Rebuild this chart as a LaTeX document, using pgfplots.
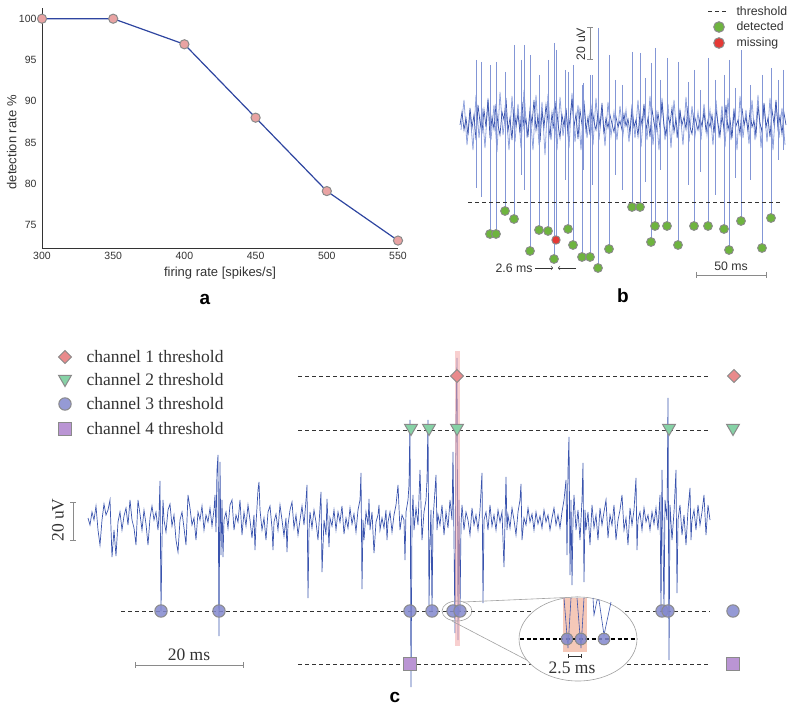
\documentclass[border=0pt]{standalone}
\usepackage{pgfplots}
\pgfplotsset{compat=1.18}
\usepackage{fontspec}
\setmainfont{Liberation Sans}
\newfontfamily\seriffont{Liberation Serif}
\definecolor{tr}{HTML}{3A54AE}
\definecolor{trl}{HTML}{8FA2DC}
\definecolor{spk}{HTML}{8396D6}
\definecolor{gr}{HTML}{8A8A8A}
\definecolor{axc}{HTML}{333333}
\definecolor{mka}{HTML}{E9A3A3}
\definecolor{lna}{HTML}{2E45A0}
\definecolor{dia}{HTML}{E98A8C}
\definecolor{tri}{HTML}{86D2A6}
\definecolor{cir}{HTML}{8388CE}
\definecolor{sq}{HTML}{BA95D4}
\definecolor{grn}{HTML}{6EB43F}
\definecolor{redm}{HTML}{E53935}
\definecolor{pinkb}{HTML}{F2A8A8}
\definecolor{peach}{HTML}{F5C8B8}
\pgfplotsset{
 dia/.style={only marks, mark=square*, mark size=4.6pt, mark options={rotate=45, fill=dia, draw=gr, line width=1pt}},
 tri/.style={only marks, mark=triangle*, mark size=7.5pt, mark options={rotate=180, fill=tri, draw=gr, line width=1pt}},
 cir/.style={only marks, mark=*, mark size=6.2pt, mark options={fill=cir, draw=gr, line width=1pt, fill opacity=0.85}},
 sqm/.style={only marks, mark=square*, mark size=6.2pt, mark options={fill=sq, draw=gr, line width=1pt}},
 thr/.style={dashed, dash pattern=on 4pt off 3pt, color=axc, line width=0.8pt},
}
\begin{document}
\begin{tikzpicture}
\useasboundingbox (0,0) rectangle (790pt,714pt);
% ---------------- panel a ----------------
\begin{axis}[at={(42pt,466pt)}, anchor=south west, scale only axis,
  width=356pt, height=240pt, xmin=300, xmax=550, ymin=72.2, ymax=101.3,
  axis lines=left, axis line style={-, axc, line width=0.8pt},
  xtick={300,350,...,550}, ytick={75,80,...,100}, major tick length=0pt,
  /pgf/number format/assume math mode=true,
  tick label style={font=\fontsize{10.5}{12}\selectfont, text=axc},
  xticklabel style={yshift=-1pt}, yticklabel style={xshift=-2pt},
  xlabel={firing rate [spikes/s]}, ylabel={detection rate \%},
  label style={font=\fontsize{13}{15}\selectfont, text=axc},
  xlabel style={at={(axis description cs:0.5,-0.104)}, anchor=center},
  ylabel style={at={(axis description cs:-0.085,0.44)}, anchor=center},
  clip=false]
\addplot[lna, line width=1.2pt, mark=*, mark size=4.6pt, mark options={fill=mka, draw=gr, line width=1pt}]
 coordinates {(300,100) (350,100) (400,96.9) (450,88) (500,79.1) (550,73.1)};
\end{axis}
% ---------------- background axis for b and c ----------------
\begin{axis}[at={(0pt,0pt)}, anchor=south west, scale only axis,
  width=790pt, height=714pt, xmin=0, xmax=790, ymin=0, ymax=714,
  y dir=reverse, hide axis, clip=false]
% ===== panel b =====
\addplot[trl, line width=0.8pt] coordinates {
(461,130) (464,100) (467,145) (470,112) (473,150) (476,95) (479,138) (482,108) (485,148) (488,98)
(491,140) (494,105) (497,152) (500,92) (503,135) (506,110) (509,150) (512,96) (515,142) (518,104)
(521,148) (524,90) (527,138) (530,112) (533,150) (536,95) (539,145) (542,102) (545,155) (548,94)
(551,140) (554,108) (557,150) (560,97) (563,136) (566,110) (569,148) (572,93) (575,142) (578,105)
(581,150) (584,100) (587,138) (590,112) (593,145) (596,98) (599,140) (602,108) (605,146) (608,102)
(611,136) (614,112) (617,140) (620,106) (623,135) (626,110) (629,142) (632,104) (635,138) (638,100)
(641,147) (644,108) (647,140) (650,96) (653,145) (656,110) (659,150) (662,98) (665,140) (668,104)
(671,148) (674,100) (677,138) (680,110) (683,145) (686,97) (689,142) (692,106) (695,136) (698,112)
(701,140) (704,104) (707,135) (710,110) (713,145) (716,100) (719,138) (722,106) (725,147) (728,98)
(731,140) (734,108) (737,150) (740,96) (743,138) (746,110) (749,144) (752,100) (755,140) (758,95)
(761,148) (764,104) (767,142) (770,98) (773,150) (776,102) (779,138) (782,108) (785,145)};
\addplot[tr, line width=0.7pt] coordinates {
(460,125) (462,112) (464,130) (466,118) (468,135) (470,108) (472,128) (474,115) (476,140) (478,105)
(480,122) (482,132) (484,110) (486,127) (488,100) (490,138) (492,117) (494,129) (496,104) (498,125)
(500,135) (502,112) (504,120) (506,98) (508,131) (510,118) (512,140) (514,107) (516,126) (518,114)
(520,133) (522,102) (524,128) (526,119) (528,137) (530,109) (532,124) (534,100) (536,130) (538,116)
(540,142) (542,111) (544,127) (546,105) (548,121) (550,136) (552,113) (554,129) (556,101) (558,124)
(560,138) (562,115) (564,126) (566,108) (568,133) (570,119) (572,99) (574,127) (576,114) (578,139)
(580,110) (582,125) (584,104) (586,131) (588,117) (590,135) (592,107) (594,122) (596,130) (598,112)
(600,126) (602,103) (604,134) (606,118) (608,128) (610,115) (612,124) (614,132) (616,117) (618,127)
(620,121) (622,130) (624,114) (626,126) (628,119) (630,133) (632,110) (634,127) (636,120) (638,136)
(640,112) (642,125) (644,104) (646,130) (648,118) (650,137) (652,109) (654,123) (656,131) (658,113)
(660,128) (662,102) (664,126) (666,135) (668,116) (670,124) (672,108) (674,132) (676,119) (678,138)
(680,111) (682,125) (684,117) (686,129) (688,106) (690,127) (692,134) (694,114) (696,122) (698,130)
(700,118) (702,126) (704,112) (706,131) (708,120) (710,127) (712,115) (714,133) (716,110) (718,124)
(720,136) (722,116) (724,128) (726,105) (728,130) (730,119) (732,138) (734,112) (736,126) (738,120)
(740,134) (742,108) (744,125) (746,117) (748,131) (750,111) (752,127) (754,121) (756,135) (758,106)
(760,123) (762,132) (764,103) (766,127) (768,118) (770,137) (772,110) (774,124) (776,100) (778,129)
(780,116) (782,134) (784,113) (786,125)};
% spikes (detected + small ones)
\addplot[spk, line width=0.5pt, unbounded coords=jump] coordinates {
(490,65) (490,234) (490,nan) (496,62) (496,234) (496,nan) (505,72) (505,211) (505,nan)
(514,45) (514,219) (514,nan) (530,55) (530,251) (530,nan) (539,75) (539,230) (539,nan)
(548,60) (548,231) (548,nan) (554,43) (554,259) (554,nan) (556,50) (556,240) (556,nan)
(568,72) (568,229) (568,nan) (573,65) (573,245) (573,nan) (582,85) (582,257) (582,nan)
(590,75) (590,257) (590,nan) (598,28) (598,268) (598,nan) (609,55) (609,249) (609,nan)
(632,52) (632,207) (632,nan) (640,53) (640,207) (640,nan) (651,63) (651,242) (651,nan)
(655,48) (655,226) (655,nan) (667,58) (667,226) (667,nan) (678,62) (678,245) (678,nan)
(694,70) (694,226) (694,nan) (708,58) (708,226) (708,nan) (724,75) (724,229) (724,nan)
(729,60) (729,250) (729,nan) (741,50) (741,221) (741,nan) (762,75) (762,248) (762,nan)
(771,68) (771,218) (771,nan)
(476,60) (476,188) (476,nan) (481,62) (481,197) (481,nan) (521,60) (521,175) (521,nan)
(524,45) (524,190) (524,nan) (565,70) (565,180) (565,nan) (583,83) (583,170) (583,nan)
(592,75) (592,185) (592,nan) (615,80) (615,175) (615,nan) (622,85) (622,190) (622,nan)
(645,78) (645,182) (645,nan) (660,80) (660,170) (660,nan) (688,82) (688,185) (688,nan)
(700,90) (700,172) (700,nan) (715,80) (715,195) (715,nan) (735,88) (735,178) (735,nan)
(750,85) (750,180) (750,nan) (778,80) (778,160) (778,nan) (783,70) (783,150)};
\addplot[thr] coordinates {(468,202) (780,202)};
\addplot[only marks, mark=*, mark size=4.4pt, mark options={fill=grn, draw=gr, line width=0.9pt}] coordinates {
(490,234) (496,234) (505,211) (514,219) (530,251) (539,230) (548,231) (554,259)
(568,229) (573,245) (582,257) (590,257) (598,268) (609,249) (632,207) (640,207)
(651,242) (655,226) (667,226) (678,245) (694,226) (708,226) (724,229) (729,250)
(741,221) (762,248) (771,218)};
\addplot[only marks, mark=*, mark size=4.2pt, mark options={fill=redm, draw=gr, line width=0.9pt}] coordinates {(556,240)};
% legend b
\addplot[thr, line width=0.7pt] coordinates {(708,11) (727,11)};
\addplot[only marks, mark=*, mark size=5.3pt, mark options={fill=grn, draw=gr, line width=1pt}] coordinates {(719,27)};
\addplot[only marks, mark=*, mark size=5.3pt, mark options={fill=redm, draw=gr, line width=1pt}] coordinates {(719,43)};
\begin{scope}[font=\fontsize{12.3}{14}\selectfont, text=axc]
\node[anchor=west] at (axis cs:733,11) {threshold};
\node[anchor=west] at (axis cs:733,26) {detected};
\node[anchor=west] at (axis cs:733,43) {missing};
\node[rotate=90] at (axis cs:581,44) {20 uV};
\node[anchor=west] at (axis cs:492,268) {2.6 ms};
\node[anchor=base] at (axis cs:731,271) {50 ms};
\end{scope}
\draw[gr, line width=1pt] (axis cs:590,28) -- (axis cs:590,60);
\draw[gr, line width=1pt] (axis cs:587,28) -- (axis cs:593,28);
\draw[gr, line width=1pt] (axis cs:587,60) -- (axis cs:593,60);
\draw[axc, line width=0.6pt, ->] (axis cs:535,268) -- (axis cs:553,268);
\draw[axc, line width=0.6pt, ->] (axis cs:576,268) -- (axis cs:558,268);
\draw[gr, line width=1pt] (axis cs:696,275) -- (axis cs:766,275);
\draw[gr, line width=1pt] (axis cs:696,272) -- (axis cs:696,278);
\draw[gr, line width=1pt] (axis cs:766,272) -- (axis cs:766,278);
% panel letters
\node[font=\fontsize{19}{22}\selectfont\bfseries] at (axis cs:205,299) {a};
\node[font=\fontsize{19}{22}\selectfont\bfseries] at (axis cs:623,296) {b};
\node[font=\fontsize{19}{22}\selectfont\bfseries] at (axis cs:395,697) {c};
% ===== panel c =====
\addplot[tr, line width=0.7pt] coordinates {
(88,518) (90,525) (92,512) (94,520) (96,506) (98,530) (100,545) (102,520) (104,504) (106,515)
(108,510) (110,500) (112,557) (114,530) (116,556) (118,522) (120,512) (122,530) (124,516) (126,508)
(128,525) (130,500) (132,520) (134,528) (136,545) (138,500) (140,514) (142,530) (144,510) (146,524)
(148,545) (150,518) (152,506) (154,520) (156,512) (158,530) (159,515) (160,481) (161,611) (162,540)
(163,500) (164,520) (166,532) (168,510) (170,504) (172,526) (174,515) (176,540) (178,552) (180,520)
(182,512) (184,528) (186,545) (188,495) (190,508) (192,525) (194,518) (196,540) (198,512) (200,520)
(202,506) (204,530) (206,515) (208,522) (210,508) (212,526) (214,510) (215,495) (216,532) (217,470)
(218,455) (219,636) (220,462) (221,555) (222,500) (223,557) (224,520) (226,512) (228,528) (230,505)
(232,500) (234,530) (236,515) (238,522) (240,500) (242,535) (244,512) (246,526) (248,505) (250,520)
(252,538) (254,515) (255,550) (256,524) (258,490) (259,482) (260,510) (262,530) (264,518) (266,540)
(268,512) (270,506) (272,528) (273,550) (274,522) (276,514) (278,530) (280,505) (282,520) (284,536)
(286,518) (287,552) (288,525) (290,510) (292,502) (294,528) (296,515) (298,535) (300,520) (302,506)
(304,525) (306,500) (307,485) (308,598) (309,530) (310,512) (312,528) (314,510) (316,522) (318,540)
(320,508) (321,492) (322,572) (324,520) (326,535) (327,499) (329,547) (330,518) (332,526) (334,510)
(336,530) (338,512) (340,522) (342,506) (344,534) (346,518) (348,528) (350,508) (352,524) (354,514)
(356,532) (358,510) (360,500) (361,473) (362,589) (363,520) (364,540) (366,512) (368,525) (369,499)
(370,530) (372,512) (374,553) (376,522) (378,515) (379,505) (380,530) (382,518) (384,528) (386,510)
(387,540) (388,522) (390,512) (392,532) (394,515) (396,505) (398,485) (400,530) (402,515) (404,520)
(405,560) (406,512) (408,500) (409,485) (410,420) (411,687) (412,520) (413,495) (414,530) (416,508)
(418,525) (420,470) (422,540) (424,512) (426,500) (427,480) (428,420) (429,605) (430,540) (431,510)
(432,611) (433,520) (434,505) (436,475) (437,530) (438,515) (440,525) (442,505) (444,535) (446,512)
(448,528) (450,500) (452,520) (453,452) (454,540) (455,633) (456,420) (457,358) (458,640) (459,500)
(460,611) (461,525) (462,505) (464,530) (466,512) (468,520) (470,535) (472,508) (474,525) (476,515)
(478,530) (480,510) (482,473) (483,603) (484,520) (486,512) (488,530) (490,505) (492,526) (494,515)
(496,530) (498,510) (500,522) (502,512) (504,567) (506,477) (507,530) (508,515) (510,528) (512,508)
(514,520) (516,535) (518,512) (520,500) (521,484) (522,540) (524,518) (526,525) (528,508) (530,522)
(532,514) (534,530) (536,512) (538,524) (540,516) (542,528) (544,510) (546,522) (548,515) (550,530)
(552,518) (554,508) (556,525) (558,515) (560,528) (562,512) (564,500) (566,480) (567,555) (568,470)
(569,437) (570,575) (571,500) (572,585) (573,520) (574,495) (576,530) (578,510) (580,540) (582,500)
(583,463) (584,582) (585,510) (586,530) (588,512) (590,545) (592,505) (594,528) (596,515) (598,540)
(600,508) (602,525) (604,512) (606,500) (608,538) (610,515) (612,525) (614,505) (616,540) (618,520)
(620,510) (622,495) (624,530) (626,518) (628,545) (630,508) (632,525) (634,510) (636,478) (637,550)
(638,520) (640,512) (642,530) (644,508) (646,522) (648,515) (650,530) (652,512) (654,524) (656,508)
(658,530) (660,495) (661,611) (662,470) (663,540) (664,610) (665,500) (667,520) (668,398) (669,660)
(670,505) (672,540) (674,512) (676,470) (677,593) (678,520) (680,505) (682,535) (684,515) (686,545)
(688,510) (690,488) (691,540) (692,520) (694,510) (696,530) (698,505) (700,525) (702,512) (704,495)
(706,535) (708,505) (710,520)};
% pink band
\fill[pinkb, opacity=0.55] (axis cs:454.5,351) rectangle (axis cs:459.5,646);
% thresholds
\addplot[thr] coordinates {(298,376) (710,376)};
\addplot[thr] coordinates {(298,430) (710,430)};
\addplot[thr] coordinates {(121,611) (710,611)};
\addplot[thr] coordinates {(298,664) (710,664)};
% small ellipse and connectors
\draw[gr!80, line width=0.6pt] (axis cs:457,611) ellipse [x radius=15pt, y radius=10pt];
\draw[gr!80, line width=0.6pt] (axis cs:463,602) -- (axis cs:578,597);
\draw[gr!80, line width=0.6pt] (axis cs:452,621) -- (axis cs:542,668);
% markers
\addplot[dia] coordinates {(457,376) (734,376)};
\addplot[tri] coordinates {(411,428) (429,428) (457,428) (669,428) (733,428)};
\addplot[cir] coordinates {(161,611) (219,611) (410,611) (432,611) (453,611) (460,611) (662,611) (668,611) (733,611)};
\addplot[sqm] coordinates {(410,664) (733,664)};
% big zoom ellipse
\filldraw[fill=white, draw=gr!80, line width=0.6pt] (axis cs:578,639) ellipse [x radius=59pt, y radius=42pt];
\fill[peach] (axis cs:563,598) rectangle (axis cs:587,652);
\addplot[black, dashed, dash pattern=on 4pt off 2.5pt, line width=1.3pt] coordinates {(520,639) (637,639)};
\addplot[tr, line width=0.6pt, unbounded coords=jump] coordinates {
(564,598) (568,648) (571,598) (571,nan) (577,598) (581,648) (584,598) (584,nan)
(593,598) (594,615) (597,600) (599,600) (604,635) (611,602)};
\addplot[cir, mark size=5.8pt] coordinates {(567,639) (581,639) (604,639)};
\draw[axc, line width=0.6pt] (axis cs:568,656) -- (axis cs:581,656);
\draw[axc, line width=0.6pt] (axis cs:568,654) -- (axis cs:568,658);
\draw[axc, line width=0.6pt] (axis cs:581,654) -- (axis cs:581,658);
% legend c
\addplot[dia] coordinates {(65,357)};
\addplot[tri] coordinates {(65,379)};
\addplot[cir] coordinates {(65,404)};
\addplot[sqm] coordinates {(65,429)};
\begin{scope}[font=\seriffont\fontsize{17.5}{20}\selectfont, text=axc]
\node[anchor=west] at (axis cs:83,357) {channel 1 threshold};
\node[anchor=west] at (axis cs:83,380) {channel 2 threshold};
\node[anchor=west] at (axis cs:83,404) {channel 3 threshold};
\node[anchor=west] at (axis cs:83,429) {channel 4 threshold};
\node[rotate=90] at (axis cs:58,520) {20 uV};
\node[anchor=base] at (axis cs:189,660) {20 ms};
\node[anchor=base] at (axis cs:572,673) {2.5 ms};
\end{scope}
\draw[gr, line width=0.9pt] (axis cs:73,502) -- (axis cs:73,540);
\draw[gr, line width=0.9pt] (axis cs:70,502) -- (axis cs:76,502);
\draw[gr, line width=0.9pt] (axis cs:70,540) -- (axis cs:76,540);
\draw[gr, line width=0.9pt] (axis cs:135,665) -- (axis cs:243,665);
\draw[gr, line width=0.9pt] (axis cs:135,662) -- (axis cs:135,668);
\draw[gr, line width=0.9pt] (axis cs:243,662) -- (axis cs:243,668);
\end{axis}
\end{tikzpicture}
\end{document}
